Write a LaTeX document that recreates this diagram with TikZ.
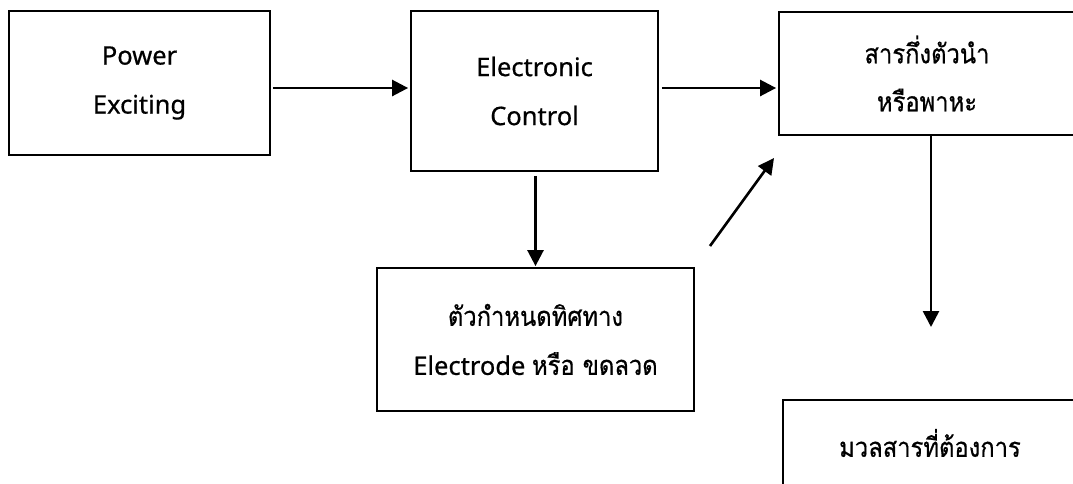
\documentclass[tikz,border=0pt]{standalone}
\usepackage{fontspec}
\setmainfont[FakeBold=0.6]{Noto Sans}
\newfontfamily\thai[Script=Thai,FakeStretch=0.88,FakeBold=0.6]{Loma}
\usetikzlibrary{arrows.meta}
\tikzset{
  box/.style={draw=black, line width=1.8pt, inner sep=0pt, align=center,
    font=\fontsize{25.5}{49}\selectfont},
  thaitext/.style={font=\thai\fontsize{27}{48}\selectfont},
  arr/.style={line width=2.6pt, -{Triangle[length=16pt,width=16pt]}},
}
\begin{document}
\begin{tikzpicture}[x=1pt,y=-1pt]
\useasboundingbox[fill=white] (0,0) rectangle (1073,483);
\begin{scope}
\clip (0,0) rectangle (1073,483);
\node[box, minimum width=261pt, minimum height=144pt] (A) at (139.5,83) {Power\\Exciting};
\node[box, minimum width=247pt, minimum height=160pt] (B) at (534.5,91) {Electronic\\Control};
\node[box, thaitext, minimum width=296pt, minimum height=123pt] (C) at (927,73.5) {สารกึ่งตัวนำ\\หรือพาหะ};
\node[box, minimum width=317pt, minimum height=143pt] (D) at (535.5,339.5) {{\thai\fontsize{27}{49}\selectfont ตัวกำหนดทิศทาง}\\Electrode {\thai\fontsize{27}{49}\selectfont หรือ ขดลวด}};
\node[box, thaitext, minimum width=294pt, minimum height=86pt] (E) at (930,443) {มวลสารที่ต้องการ};
\end{scope}
\coordinate (r) at (0,88);
\coordinate (d1) at (710,246);
\coordinate (d2) at (774,158);
\coordinate (c2) at (931,327);
\draw[arr, shorten <=2pt, shorten >=2pt] (A.east |- r) -- (B.west |- r);
\draw[arr, shorten <=3pt, shorten >=2pt] (B.east |- r) -- (C.west |- r);
\draw[arr, shorten <=4pt, shorten >=1pt] (B.south -| D.north) -- (D.north);
\draw[arr] (d1) -- (d2);
\draw[arr] (C.south -| c2) -- (c2);
\end{tikzpicture}
\end{document}
